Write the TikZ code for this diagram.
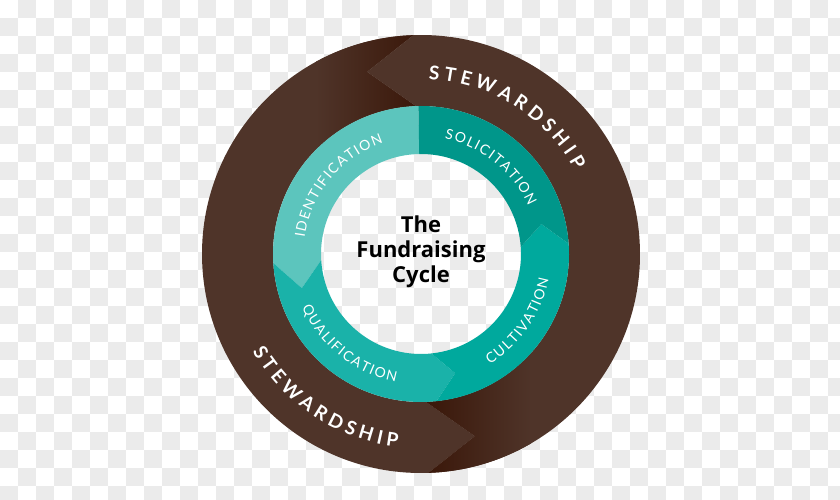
\documentclass[tikz,border=0pt]{standalone}
\usepackage{fontspec}
\setmainfont{Open Sans}
\newfontfamily\ringfont{Lato}
\usetikzlibrary{decorations.text}

\definecolor{brownmid}{HTML}{4F3429}
\definecolor{browndark}{HTML}{3A1709}
\definecolor{tealident}{HTML}{5CC5BD}
\definecolor{tealsolic}{HTML}{00968A}
\definecolor{tealcult}{HTML}{00A99D}
\definecolor{tealqual}{HTML}{1AB2A9}
\definecolor{chk}{HTML}{EBEBEB}

% ring segment: start, end, notch, point, inner r, outer r, mid r
\newcommand{\segpath}[7]{({#1}:#5) -- ({#1+#3}:#7) -- ({#1}:#6)
  arc[start angle=#1, end angle=#2, radius=#6] -- ({#2+#4}:#7) -- ({#2}:#5)
  arc[start angle=#2, end angle=#1, radius=#5] -- cycle}
\newcommand{\steward}{\ringfont\bfseries\fontsize{19}{21}\selectfont\fontdimen2\font=4.5pt}
\newcommand{\phase}{\ringfont\fontsize{14}{16}\selectfont\fontdimen2\font=1.5pt}

\begin{document}
\begin{tikzpicture}[x=1pt, y=1pt,
    title/.style={font=\fontsize{22}{25}\selectfont\bfseries, align=center, text=black, inner sep=0pt},
    ringlbl/.style={decorate, decoration={text along path, text align=center, text color=white, text={#1}}}
]
\useasboundingbox (-421,-246) rectangle (419,254);
\clip (-421,-246) rectangle (419,254);

% checkered backdrop
\fill[white] (-421,-246) rectangle (419,254);
\foreach \i in {0,...,46} {
  \foreach \j in {0,...,27} {
    \ifodd\numexpr\i+\j\relax
      \fill[chk] ({18*\i-421},{254-18*\j}) rectangle ++(18,-18);
    \fi
  }
}

% outer stewardship arrows
\fill[brownmid] \segpath{92}{272}{14.5}{14.5}{148}{219}{190};
\begin{scope}
  \clip \segpath{92}{272}{14.5}{14.5}{148}{219}{190};
  \shade[left color=brownmid, right color=browndark] (-105,95) rectangle (0,225);
\end{scope}
\fill[brownmid] \segpath{-88}{92}{14.5}{14.5}{148}{219}{190};
\begin{scope}
  \clip \segpath{-88}{92}{14.5}{14.5}{148}{219}{190};
  \shade[left color=browndark, right color=brownmid] (5,-225) rectangle (110,-95);
\end{scope}

% inner cycle
\fill[tealident] \segpath{91}{183.5}{0}{12.5}{100}{148}{124};
\fill[tealqual] \segpath{183.5}{276}{12.5}{10}{100}{148}{124};
\fill[tealcult] \segpath{276}{364}{10}{10}{100}{148}{124};
\fill[tealsolic] \segpath{4}{91}{10}{0}{100}{148}{124};

\node[title] (title) at (0,2) {The\\Fundraising\\Cycle};

% curved labels
\path[ringlbl={|\steward|S T E W A R D S H I P}] (108:175) arc[start angle=108, end angle=8, radius=175];
\path[ringlbl={|\steward|S T E W A R D S H I P}] (186.5:194.5) arc[start angle=186.5, end angle=286.5, radius=194.5];
\path[ringlbl={|\phase|I D E N T I F I C A T I O N}] (190.3:117.5) arc[start angle=190.3, end angle=90.3, radius=117.5];
\path[ringlbl={|\phase|S O L I C I T A T I O N}] (101.2:117.5) arc[start angle=101.2, end angle=1.2, radius=117.5];
\path[ringlbl={|\phase|C U L T I V A T I O N}] (275.5:130) arc[start angle=275.5, end angle=375.5, radius=130];
\path[ringlbl={|\phase|Q U A L I F I C A T I O N}] (181.5:130.5) arc[start angle=181.5, end angle=281.5, radius=130.5];
\end{tikzpicture}
\end{document}
